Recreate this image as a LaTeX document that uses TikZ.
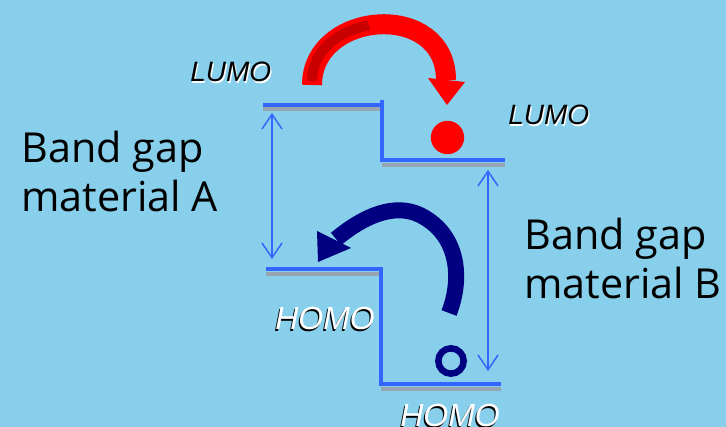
\documentclass[tikz,border=0pt]{standalone}
\usepackage{fontspec}
\setmainfont{Open Sans}
\newfontfamily\lblfont{Liberation Sans}
\usetikzlibrary{arrows.meta,calc}
\definecolor{skybg}{RGB}{135,207,235}
\definecolor{levelblue}{RGB}{51,102,255}
\definecolor{arrowred}{RGB}{255,0,0}
\definecolor{shadered}{RGB}{200,0,0}
\definecolor{holenavy}{RGB}{0,0,128}
\definecolor{shadowgray}{RGB}{150,165,175}
\newcommand{\whiteshadow}[1]{\makebox[0pt][l]{\hspace{0.9pt}\raisebox{-0.9pt}{\color{white}#1}}#1}
\newcommand{\blackshadow}[1]{\makebox[0pt][l]{\hspace{-0.9pt}\raisebox{-0.9pt}{\color{black}#1}}{\color{white}#1}}
\tikzset{
	level/.style={draw=levelblue, line width=3pt, line join=miter},
	levelshadow/.style={draw=shadowgray, line width=3pt},
	gap/.style={draw=levelblue, line width=1.1pt, {Straight Barb[length=11pt,width=15pt]}-{Straight Barb[length=11pt,width=15pt]}},
	lumolabel/.style={anchor=base west, inner sep=0pt, font=\lblfont\itshape\fontsize{21}{25}\selectfont},
	homolabel/.style={anchor=base west, inner sep=0pt, font=\lblfont\itshape\fontsize{24}{28}\selectfont},
	gaplabel/.style={anchor=base west, inner sep=0pt, align=left, font=\fontsize{31}{37}\selectfont},
	electron/.style={circle, fill=arrowred, inner sep=0pt, minimum size=25pt},
	hole/.style={circle, draw=holenavy, line width=4.9pt, inner sep=0pt, minimum size=19pt},
}
\begin{document}
\begin{tikzpicture}[x=0.75pt,y=0.75pt,yscale=-1,xscale=1]
			%Background
			\fill[skybg] (0,0) rectangle (726,427);
			\useasboundingbox (0,0) rectangle (726,427);
			%Level end points
			\coordinate (lumoA1) at (263,105);
			\coordinate (lumoA2) at (382,105);
			\coordinate (lumoB1) at (382,160.5);
			\coordinate (lumoB2) at (505,160.5);
			\coordinate (homoA1) at (266,269.5);
			\coordinate (homoA2) at (380.5,269.5);
			\coordinate (homoB1) at (380.5,384.5);
			\coordinate (homoB2) at (501,384.5);
			%Straight Lines: shadows
			\draw [levelshadow] ($(lumoA1)+(0,4.5)$) -- ($(lumoA2)+(0,4.5)$) ;
			\draw [levelshadow] ($(lumoB1)+(0,4.5)$) -- ($(lumoB2)+(0,4.5)$) ;
			\draw [levelshadow] ($(homoA1)+(0,4.5)$) -- ($(homoA2)+(0,4.5)$) ;
			\draw [levelshadow] ($(homoB1)+(0,4.5)$) -- ($(homoB2)+(0,4.5)$) ;
			%Straight Lines: LUMO step
			\draw [level] (lumoA1) -- (lumoA2) ;
			\draw [level] (382,100) -- (lumoB1) -- (lumoB2) ;
			%Straight Lines: HOMO step
			\draw [level] (homoA1) -- (homoA2) -- (homoB1) -- (homoB2) ;
			%Gap arrows
			\coordinate (gapAtop) at (272,113);
			\coordinate (gapAbot) at (272,259);
			\coordinate (gapBtop) at (488,170);
			\coordinate (gapBbot) at (488,371);
			\draw [gap] (gapAtop) -- (gapAbot) ;
			\draw [gap] (gapBtop) -- (gapBbot) ;
			%Curve Lines: electron transfer
			\draw [draw=arrowred, line width=15pt] (312,85) .. controls (312,10) and (446,0) .. (446,80) ;
			\draw [draw=shadered, line width=7.5pt] (312,81) .. controls (312,50.7) and (339.1,30.4) .. (369,25.4) ;
			\fill [arrowred] (428,78) -- (465,82) -- (447,105) -- cycle ;
			%Curve Lines: hole transfer
			\draw [draw=holenavy, line width=12pt] (449,313) .. controls (462,280) and (460,235) .. (420,215) .. controls (395,203) and (365,215) .. (336,239) ;
			\fill [holenavy] (317,231) -- (351,248) -- (318,262) -- cycle ;
			%Shape: Circles
			\node [electron] (electron) at (447.5,137.5) {};
			\node [hole] (hole) at (451,361) {};
			% Text Node
			\node [lumolabel] (lumoA) at (190,82) {\whiteshadow{LUMO}};
			\node [lumolabel] (lumoB) at (508,125) {\whiteshadow{LUMO}};
			\node [homolabel] (homoA) at (275,330) {\blackshadow{HOMO}};
			\node [homolabel] (homoB) at (400,427) {\blackshadow{HOMO}};
			% Text Node
			\node [gaplabel] (gapA) at (21,212) {Band gap\\material A};
			\node [gaplabel] (gapB) at (524,299) {Band gap\\material B};
\end{tikzpicture}
\end{document}
